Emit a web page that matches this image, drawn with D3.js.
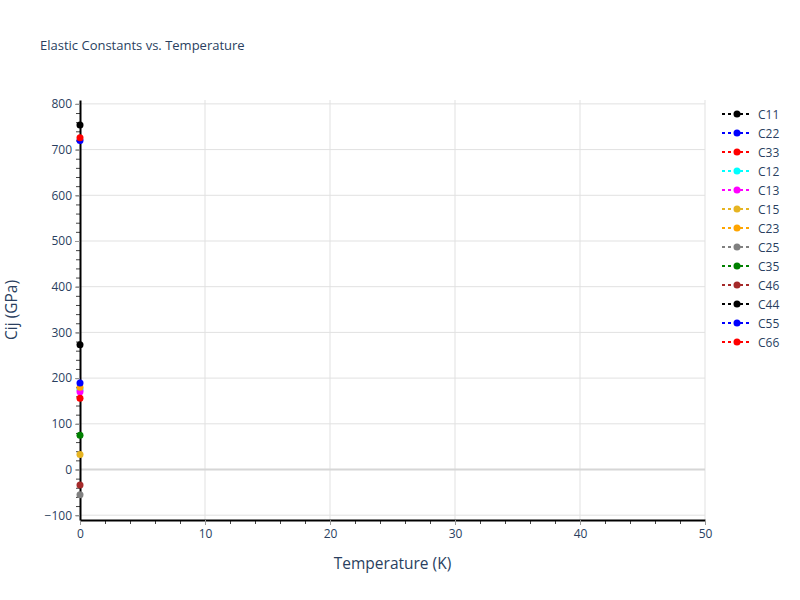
<!DOCTYPE html>
<html>
<head>
<meta charset="utf-8">
<script src="https://cdn.jsdelivr.net/npm/d3@7"></script>
<style>
  body { margin: 0; background: #fff; }
  text { font-family: "Open Sans", Verdana, sans-serif; fill: #2a3f5f; }
</style>
</head>
<body>
<div id="chart"></div>
<script>
// elastic constants read at T = 0 K
var names = ["C11", "C22", "C33", "C12", "C13", "C15", "C23", "C25", "C35", "C46", "C44", "C55", "C66"];
var colors = ["black", "blue", "red", "cyan", "magenta", "#e6b422", "orange", "gray", "green", "brown", "black", "blue", "red"];
var temps = [0];
var values = [
    [754], [720], [726], [175], [170], [33], [180], [-55], [75], [-34], [273], [189], [156]
];
var xTicks = [0, 10, 20, 30, 40, 50];
var yTicks = [-100, 0, 100, 200, 300, 400, 500, 600, 700, 800];

var totalWidth = 800,
    totalHeight = 600,
    margin = {top: 100, right: 95, bottom: 80, left: 80};
var width = totalWidth - margin.left - margin.right,
    height = totalHeight - margin.top - margin.bottom;

var xScale = d3.scaleLinear().domain([0, 50]).range([0, width]);
var yScale = d3.scaleLinear().domain([-110.5, 808.5]).range([height, 0]);

var svg = d3.select("#chart").append("svg")
    .attr("width", totalWidth)
    .attr("height", totalHeight);

svg.append("text")
    .attr("x", 40).attr("y", 50)
    .style("font-size", "13px")
    .text("Elastic Constants vs. Temperature");

var g = svg.append("g").attr("transform", "translate(" + margin.left + "," + margin.top + ")");

// grid
g.selectAll(".vgrid").data(xTicks.slice(1)).enter().append("line")
    .attr("x1", function(d) { return xScale(d); })
    .attr("x2", function(d) { return xScale(d); })
    .attr("y1", 0).attr("y2", height)
    .attr("stroke", "#e1e1e1").attr("stroke-width", 1);
g.selectAll(".hgrid").data(yTicks.filter(function(d) { return d !== 0; })).enter().append("line")
    .attr("x1", 0).attr("x2", width)
    .attr("y1", function(d) { return yScale(d); })
    .attr("y2", function(d) { return yScale(d); })
    .attr("stroke", "#e1e1e1").attr("stroke-width", 1);
g.append("line")
    .attr("x1", 0).attr("x2", width)
    .attr("y1", yScale(0)).attr("y2", yScale(0))
    .attr("stroke", "#d6d6d6").attr("stroke-width", 2);

// minor ticks
var xMinor = d3.range(0, 51, 2);
var yMinor = d3.range(-100, 801, 20);
g.append("g")
    .attr("transform", "translate(0," + height + ")")
    .call(d3.axisBottom(xScale).tickValues(xMinor).tickSize(4).tickFormat(""))
    .call(function(s) { s.select(".domain").remove(); s.selectAll("line").attr("stroke", "#444"); });
g.append("g")
    .call(d3.axisLeft(yScale).tickValues(yMinor).tickSize(4).tickFormat(""))
    .call(function(s) { s.select(".domain").remove(); s.selectAll("line").attr("stroke", "#444"); });

// major axes
var xAxis = d3.axisBottom(xScale).tickValues(xTicks).tickSize(5).tickSizeOuter(0).tickPadding(4);
var yAxis = d3.axisLeft(yScale).tickValues(yTicks).tickSize(5).tickSizeOuter(0).tickPadding(3)
    .tickFormat(function(d) { return d < 0 ? "\u2212" + Math.abs(d) : d; });

var gx = g.append("g").attr("transform", "translate(0," + height + ")").call(xAxis);
gx.select(".domain").attr("stroke", "#000").attr("stroke-width", 2);
gx.selectAll("line").attr("stroke", "#999");
gx.selectAll("text").style("font-size", "12px").style("fill", "#2a3f5f").attr("font-family", null);

var gy = g.append("g").call(yAxis);
gy.select(".domain").attr("stroke", "#000").attr("stroke-width", 2);
gy.selectAll("line").attr("stroke", "#999");
gy.selectAll("text").style("font-size", "12px").style("fill", "#2a3f5f").attr("font-family", null);

// axis titles
svg.append("text")
    .attr("x", margin.left + width / 2).attr("y", 569)
    .attr("text-anchor", "middle")
    .style("font-size", "15.5px")
    .text("Temperature (K)");
svg.append("text")
    .attr("transform", "translate(17," + (margin.top + height / 2) + ") rotate(-90)")
    .attr("text-anchor", "middle")
    .style("font-size", "15.5px")
    .text("Cij (GPa)");

// series
var series = names.map(function(n, i) {
    return {name: n, color: colors[i], pts: temps.map(function(t, j) { return [t, values[i][j]]; })};
});
var line = d3.line().x(function(d) { return xScale(d[0]); }).y(function(d) { return yScale(d[1]); });

var sg = g.selectAll(".series").data(series).enter().append("g");
sg.append("path")
    .attr("d", function(d) { return line(d.pts); })
    .attr("fill", "none")
    .attr("stroke", function(d) { return d.color; })
    .attr("stroke-width", 2)
    .attr("stroke-dasharray", "3,3");
sg.selectAll("circle").data(function(d) { return d.pts.map(function(p) { return {p: p, c: d.color}; }); })
    .enter().append("circle")
    .attr("cx", function(d) { return xScale(d.p[0]); })
    .attr("cy", function(d) { return yScale(d.p[1]); })
    .attr("r", 3.5)
    .attr("fill", function(d) { return d.c; });

// legend
var legend = svg.append("g").attr("transform", "translate(722,114)");
var li = legend.selectAll(".li").data(series).enter().append("g")
    .attr("transform", function(d, i) { return "translate(0," + (i * 19) + ")"; });
li.append("line")
    .attr("x1", 0).attr("x2", 30).attr("y1", 0).attr("y2", 0)
    .attr("stroke", function(d) { return d.color; })
    .attr("stroke-width", 2)
    .attr("stroke-dasharray", "3,3");
li.append("circle")
    .attr("cx", 15).attr("cy", 0).attr("r", 3.5)
    .attr("fill", function(d) { return d.color; });
li.append("text")
    .attr("x", 36).attr("y", 4.5)
    .style("font-size", "12px")
    .text(function(d) { return d.name; });
</script>
</body>
</html>
